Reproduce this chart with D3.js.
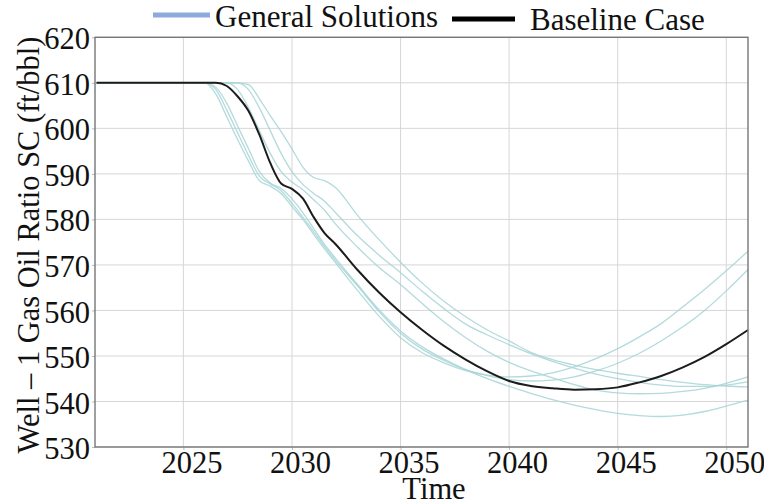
<!DOCTYPE html>
<html>
<head>
<meta charset="utf-8">
<script src="https://cdn.jsdelivr.net/npm/d3@7"></script>
<style>
  html, body { margin: 0; padding: 0; background: #fff; }
</style>
</head>
<body>
<svg id="chart" width="764" height="503"></svg>
<script>
// Simulation years (shared by every run)
const years = [2021, 2025.5, 2026, 2026.5, 2027, 2027.5, 2028, 2028.5, 2029, 2029.5,
  2030, 2030.5, 2031, 2031.5, 2032, 2033, 2034, 2035, 2036, 2037, 2038, 2039, 2040,
  2041, 2042, 2043, 2044, 2045, 2046, 2047, 2048, 2049, 2050, 2051];

// Baseline case, gas oil ratio (ft/bbl)
const baseline = [610, 610, 610, 610, 609.3, 607, 603.8, 598.6, 592.4, 587.9,
  586.7, 584.6, 580.5, 577, 574.6, 569, 564, 559.6, 555.7, 552.2, 549.2, 546.6, 544.5,
  543.4, 542.9, 542.6, 542.7, 543.1, 544.2, 545.6, 547.5, 549.8, 552.6, 555.7];

// General solution runs
const solA = [610, 610, 610, 607.5, 602.5, 597.5, 592.8, 588.5, 587.3, 585.7,
  582.8, 580, 576.7, 573.5, 570.5, 564.5, 558.8, 554, 550.7, 548.5, 546.8, 545.8, 545.4,
  545.6, 546.3, 547.6, 549.4, 551.6, 554.2, 557.1, 560.8, 564.6, 568.7, 573];
const solB = [610, 610, 610, 608.5, 604, 599, 594, 589.5, 587.8, 586.3,
  583.5, 580.5, 577.3, 574, 571, 565.5, 559.8, 555, 551.5, 549, 547, 545.7, 544.8,
  544.5, 544.7, 545.4, 546.7, 548.4, 550.6, 553.3, 556.4, 560, 564.3, 569];
const solC = [610, 610, 610, 609, 605.5, 600.5, 595.5, 590.5, 588, 586.8,
  584.5, 581.5, 578, 574.5, 571.5, 565.8, 560.2, 555.5, 552, 549.3, 547, 545, 543.3,
  541.8, 540.4, 539.2, 538.2, 537.4, 536.9, 536.7, 537, 537.8, 539, 540.3];
const solD = [610, 610, 610, 610, 610, 608.5, 604.5, 599.5, 594.5, 590.5,
  588.2, 586.5, 584.3, 582, 579, 574, 569.5, 565.7, 561.5, 557.5, 554, 551, 548.6,
  546.7, 545.2, 543.7, 542.5, 541.9, 541.7, 541.8, 542.2, 542.9, 544, 545.4];
const solE = [610, 610, 610, 610, 610, 610, 608.5, 604.5, 599.5, 594.5,
  590.5, 587.7, 585.7, 584, 581.5, 576.5, 572.2, 568.3, 564.2, 560.4, 557, 554.6, 552.5,
  550.5, 548.8, 547.3, 546, 545, 544.2, 543.6, 543.3, 543.3, 543.6, 544.3];
const solF = [610, 610, 610, 610, 610, 610, 609.6, 606.5, 602.8, 599.3,
  595.5, 591.5, 589.2, 588.5, 587, 581, 575.6, 570.6, 566, 562, 558.6, 555.7, 553.3,
  550.8, 549.2, 548, 547, 546.2, 545.5, 544.8, 544.2, 543.7, 543.4, 543.2];
const solutions = [solA, solB, solC, solD, solE, solF];

// Axis ticks and labels
const xTicks = [2025, 2030, 2035, 2040, 2045, 2050];
const yTicks = [530, 540, 550, 560, 570, 580, 590, 600, 610, 620];
const legendLabels = ["General Solutions", "Baseline Case"];
const xTitle = "Time";
const yTitle = "Well \u2013 1 Gas Oil Ratio SC (ft/bbl)";

const FONT = "'Liberation Serif'";
const TEXT_SIZE = 30.5;
const svg = d3.select("#chart").style("font-family", FONT);
const plotLeft = 95, plotRight = 748, plotTop = 37.3, plotBottom = 447;

const x = d3.scaleLinear().domain([2020.93, 2051]).range([plotLeft, plotRight]);
const y = d3.scaleLinear().domain([530, 620]).range([plotBottom, plotTop]);

// Serif text helper (start-anchored; alignment done from measured width)
function serif(sel, size) {
  return sel.attr("font-family", "Liberation Serif").style("font-family", FONT)
    .attr("font-size", size).style("font-size", size + "px")
    .attr("text-anchor", null).attr("fill", "#111");
}
function alignText(sel, frac) {
  sel.each(function () {
    const w = this.getComputedTextLength();
    const x0 = +(this.getAttribute("x") || 0);
    this.setAttribute("x", x0 - w * frac);
  });
}

// Grid
const grid = svg.append("g").attr("stroke", "#d6d6d6").attr("stroke-width", 1);
grid.selectAll("line.v").data(xTicks).join("line")
  .attr("class", "v")
  .attr("x1", d => x(d)).attr("x2", d => x(d))
  .attr("y1", plotTop).attr("y2", plotBottom);
grid.selectAll("line.h").data(yTicks).join("line")
  .attr("class", "h")
  .attr("x1", plotLeft).attr("x2", plotRight)
  .attr("y1", d => y(d)).attr("y2", d => y(d));

// Axes (labels plus short tick stubs)
const xAxis = svg.append("g").attr("transform", `translate(0,${plotBottom})`)
  .call(d3.axisBottom(x).tickValues(xTicks).tickFormat(d3.format("d")).tickSize(3).tickPadding(1));
xAxis.attr("font-family", null).attr("font-size", null).attr("text-anchor", null);
xAxis.select(".domain").remove();
xAxis.selectAll(".tick line").attr("stroke", "#bbb");
const xLabels = serif(xAxis.selectAll("text"), TEXT_SIZE).attr("x", 8);
alignText(xLabels, 0.5);

const yAxis = svg.append("g").attr("transform", `translate(${plotLeft},0)`)
  .call(d3.axisLeft(y).tickValues(yTicks).tickFormat(d3.format("d")).tickSize(3).tickPadding(2));
yAxis.attr("font-family", null).attr("font-size", null).attr("text-anchor", null);
yAxis.select(".domain").remove();
yAxis.selectAll(".tick line").attr("stroke", "#bbb");
const yLabels = serif(yAxis.selectAll("text"), TEXT_SIZE).attr("dy", "0.38em");
alignText(yLabels, 1);

// Lines
const line = d3.line()
  .x((d, i) => x(years[i]))
  .y(d => y(d))
  .curve(d3.curveMonotoneX);

const plot = svg.append("g");
plot.selectAll("path.sol").data(solutions).join("path")
  .attr("class", "sol")
  .attr("d", line)
  .attr("fill", "none")
  .attr("stroke", "#a6d4d6")
  .attr("stroke-width", 1.3)
  .attr("stroke-opacity", 0.85);

plot.append("path").datum(baseline)
  .attr("d", line)
  .attr("fill", "none")
  .attr("stroke", "#1c1c1c")
  .attr("stroke-width", 2);

// Frame
svg.append("rect")
  .attr("x", plotLeft).attr("y", plotTop)
  .attr("width", plotRight - plotLeft).attr("height", plotBottom - plotTop)
  .attr("fill", "none").attr("stroke", "#777").attr("stroke-width", 1.4);

// Titles
const xTitleText = serif(svg.append("text"), TEXT_SIZE)
  .attr("x", 434).attr("y", 499)
  .text(xTitle);
alignText(xTitleText, 0.5);

const yTitleText = serif(svg.append("text"), TEXT_SIZE)
  .attr("transform", "translate(39,245) rotate(-90)")
  .attr("x", 0).attr("y", 0)
  .text(yTitle);
alignText(yTitleText, 0.5);

// Legend
const legend = svg.append("g");
legend.append("line").attr("x1", 153).attr("x2", 210).attr("y1", 15).attr("y2", 15)
  .attr("stroke", "#8eaadb").attr("stroke-width", 5);
serif(legend.append("text"), 31).attr("x", 215).attr("y", 27).text(legendLabels[0]);
legend.append("line").attr("x1", 452).attr("x2", 515).attr("y1", 19).attr("y2", 19)
  .attr("stroke", "#000").attr("stroke-width", 5);
serif(legend.append("text"), 31).attr("x", 530).attr("y", 30).text(legendLabels[1]);
</script>
</body>
</html>
